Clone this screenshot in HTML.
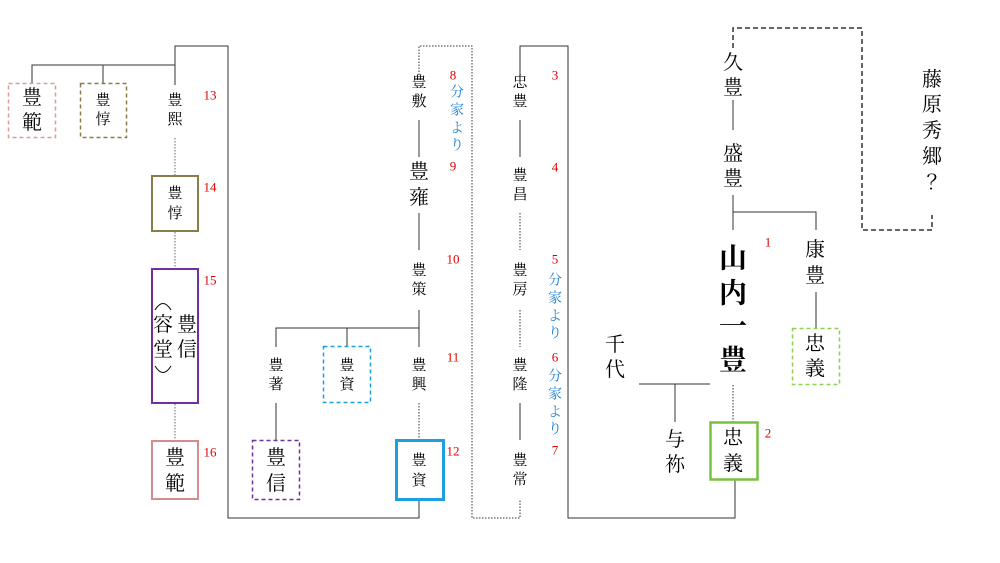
<!DOCTYPE html>
<html><head><meta charset="utf-8"><style>
html,body{margin:0;padding:0;background:#fff;}
svg{display:block;}
text{font-family:"Liberation Serif","Noto Serif CJK JP","Noto Serif CJK SC",serif;text-anchor:middle;dominant-baseline:central;fill:#000;}
.r{fill:#e00000;font-size:13px;}
.b{fill:#1f7fd0;font-size:14px;}
.s{font-size:15px;}
.m{font-size:20px;}
</style></head><body>
<svg width="1000" height="563" viewBox="0 0 1000 563" xmlns="http://www.w3.org/2000/svg">
<g fill="none" stroke="#333" stroke-width="1">
<polyline points="175,85 175,46 228,46 228,518 419,518 419,500"/>
<polyline points="32,83 32,65 175,65"/>
<line x1="103" y1="65" x2="103" y2="83"/>
<polyline points="419,75 419,46 472,46 472,518 520,518 520,500" stroke-dasharray="1.5,1.5"/>
<polyline points="520,75 520,46 568,46 568,518 735,518 735,480"/>
<line x1="419" y1="120" x2="419" y2="157"/>
<line x1="419" y1="213" x2="419" y2="250"/>
<line x1="419" y1="310" x2="419" y2="347"/>
<polyline points="276,347 276,328 419,328"/>
<line x1="347" y1="328" x2="347" y2="346"/>
<line x1="276" y1="403" x2="276" y2="440"/>
<line x1="419" y1="403" x2="419" y2="440" stroke-dasharray="1.5,1.5"/>
<line x1="520" y1="120" x2="520" y2="157"/>
<line x1="520" y1="213" x2="520" y2="250" stroke-dasharray="1.5,1.5"/>
<line x1="520" y1="310" x2="520" y2="347" stroke-dasharray="1.5,1.5"/>
<line x1="520" y1="403" x2="520" y2="440"/>
<line x1="733" y1="100" x2="733" y2="130"/>
<line x1="733" y1="195" x2="733" y2="230"/>
<polyline points="733,212 816,212 816,230"/>
<line x1="816" y1="292" x2="816" y2="328"/>
<line x1="639" y1="384" x2="710" y2="384"/>
<line x1="675" y1="384" x2="675" y2="422"/>
<line x1="733" y1="385" x2="733" y2="422" stroke-dasharray="1.5,1.5"/>
<polyline points="733,48 733,28 862,28 862,230 932,230 932,215" stroke-dasharray="5,3" stroke-width="1.5"/>
<path d="M155,310 Q163,297 171,310" stroke="#000"/>
<path d="M155,366 Q163,379 171,366" stroke="#000"/>
</g>
<g fill="none" stroke="#999" stroke-width="1.5" stroke-dasharray="1.5,1.5">
<line x1="175" y1="138" x2="175" y2="175"/>
<line x1="175" y1="232" x2="175" y2="268"/>
<line x1="175" y1="404" x2="175" y2="440"/>
</g>
<rect x="8.5" y="83.5" width="47" height="54" fill="none" stroke="#e09a9a" stroke-width="1.5" stroke-dasharray="4,3"/>
<rect x="80.5" y="83.5" width="46" height="54" fill="none" stroke="#8b7d4a" stroke-width="1.5" stroke-dasharray="4,3"/>
<rect x="152" y="176" width="46" height="55" fill="none" stroke="#8b7d4a" stroke-width="2"/>
<rect x="152" y="269" width="46" height="134" fill="none" stroke="#7030a0" stroke-width="2"/>
<rect x="152" y="441" width="46" height="58" fill="none" stroke="#d98a8a" stroke-width="2"/>
<rect x="252.5" y="440.5" width="47" height="59" fill="none" stroke="#7030a0" stroke-width="1.5" stroke-dasharray="4,3"/>
<rect x="323.5" y="346.5" width="47" height="56" fill="none" stroke="#1ea0e0" stroke-width="1.5" stroke-dasharray="4,3"/>
<rect x="396.5" y="440.5" width="47" height="59" fill="none" stroke="#1ea0e0" stroke-width="3"/>
<rect x="792.5" y="328.5" width="47" height="56" fill="none" stroke="#8fd14f" stroke-width="1.5" stroke-dasharray="4,3"/>
<rect x="710.5" y="422.5" width="47" height="57" fill="none" stroke="#7ac143" stroke-width="2.5"/>
<text class="m" x="32" y="98">豊</text><text class="m" x="32" y="123">範</text>
<text class="s" x="103" y="101">豊</text><text class="s" x="103" y="120">惇</text>
<text class="s" x="175" y="101">豊</text><text class="s" x="175" y="120">熙</text>
<text class="r" x="210" y="95">13</text>
<text class="s" x="175" y="194">豊</text><text class="s" x="175" y="214">惇</text>
<text class="r" x="210" y="187">14</text>
<text class="m" x="187" y="325">豊</text><text class="m" x="187" y="350">信</text>
<text class="m" x="163" y="325">容</text><text class="m" x="163" y="350">堂</text>
<text class="r" x="210" y="280">15</text>
<text class="m" x="175" y="458">豊</text><text class="m" x="175" y="484">範</text>
<text class="r" x="210" y="452">16</text>
<text class="s" x="419" y="83">豊</text><text class="s" x="419" y="102">敷</text>
<text class="m" x="419" y="172">豊</text><text class="m" x="419" y="198">雍</text>
<text class="s" x="419" y="271">豊</text><text class="s" x="419" y="290">策</text>
<text class="s" x="276" y="366">豊</text><text class="s" x="276" y="385">著</text>
<text class="s" x="347" y="366">豊</text><text class="s" x="347" y="385">資</text>
<text class="s" x="419" y="366">豊</text><text class="s" x="419" y="385">興</text>
<text class="m" x="276" y="458">豊</text><text class="m" x="276" y="484">信</text>
<text class="s" x="419" y="461">豊</text><text class="s" x="419" y="481">資</text>
<text class="r" x="453" y="75">8</text>
<text class="b" x="457" y="93">分</text><text class="b" x="457" y="111">家</text><text class="b" x="457" y="129">よ</text><text class="b" x="457" y="146">り</text>
<text class="r" x="453" y="166">9</text>
<text class="r" x="453" y="259">10</text>
<text class="r" x="453" y="357">11</text>
<text class="r" x="453" y="451">12</text>
<text class="s" x="520" y="83">忠</text><text class="s" x="520" y="102">豊</text>
<text class="s" x="520" y="176">豊</text><text class="s" x="520" y="195">昌</text>
<text class="s" x="520" y="271">豊</text><text class="s" x="520" y="290">房</text>
<text class="s" x="520" y="366">豊</text><text class="s" x="520" y="385">隆</text>
<text class="s" x="520" y="461">豊</text><text class="s" x="520" y="480">常</text>
<text class="r" x="555" y="75">3</text>
<text class="r" x="555" y="167">4</text>
<text class="r" x="555" y="259">5</text>
<text class="b" x="555" y="281">分</text><text class="b" x="555" y="299">家</text><text class="b" x="555" y="317">よ</text><text class="b" x="555" y="334">り</text>
<text class="r" x="555" y="357">6</text>
<text class="b" x="555" y="377">分</text><text class="b" x="555" y="395">家</text><text class="b" x="555" y="413">よ</text><text class="b" x="555" y="430">り</text>
<text class="r" x="555" y="450">7</text>
<text class="m" x="733" y="63">久</text><text class="m" x="733" y="88">豊</text>
<text class="m" x="733" y="154">盛</text><text class="m" x="733" y="179">豊</text>
<text x="733" y="259" style="font-size:28px;font-weight:bold">山</text>
<text x="733" y="294" style="font-size:28px;font-weight:bold">内</text>
<text x="733" y="327" style="font-size:28px;font-weight:bold">一</text>
<text x="733" y="361" style="font-size:28px;font-weight:bold">豊</text>
<text class="r" x="768" y="242">1</text>
<text class="m" x="815" y="250">康</text><text class="m" x="815" y="276">豊</text>
<text class="m" x="815" y="344">忠</text><text class="m" x="815" y="369">義</text>
<text class="m" x="932" y="80">藤</text><text class="m" x="932" y="105">原</text><text class="m" x="932" y="131">秀</text><text class="m" x="932" y="157">郷</text><text class="m" x="932" y="183">？</text>
<text class="m" x="615" y="345">千</text><text class="m" x="615" y="370">代</text>
<text class="m" x="675" y="440">与</text><text class="m" x="675" y="465">祢</text>
<text class="m" x="733" y="438">忠</text><text class="m" x="733" y="464">義</text>
<text class="r" x="768" y="433">2</text>
</svg>
</body></html>
